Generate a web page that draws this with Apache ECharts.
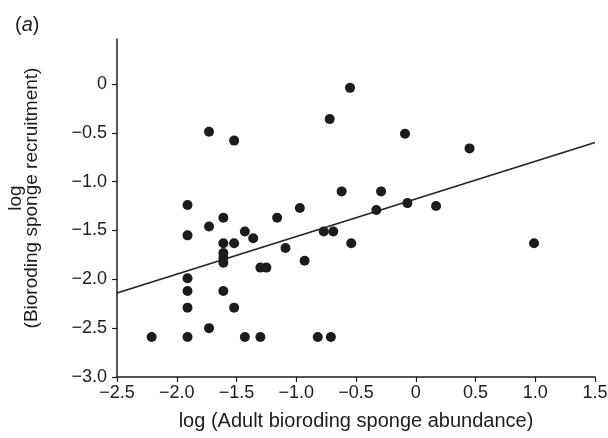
<!DOCTYPE html>
<html>
<head>
<meta charset="utf-8">
<script src="https://cdn.jsdelivr.net/npm/echarts@6/dist/echarts.min.js"></script>
<style>
  html, body { margin: 0; padding: 0; background: #fff; }
  #chart { width: 608px; height: 438px; }
</style>
</head>
<body>
<div id="chart"></div>
<script>
// adult abundance (x) vs recruitment (y), both log
const adultLog = [
  -2.21, -1.91, -1.91, -1.91, -1.91, -1.91, -1.91, -1.73, -1.73, -1.73,
  -1.61, -1.61, -1.61, -1.61, -1.61, -1.61, -1.52, -1.52, -1.52, -1.43,
  -1.43, -1.36, -1.30, -1.30, -1.25, -1.16, -1.09, -0.97, -0.93, -0.82,
  -0.77, -0.71, -0.69, -0.72, -0.62, -0.55, -0.54, -0.33, -0.29, -0.09,
  -0.07, 0.17, 0.45, 0.99
];
const recruitLog = [
  -2.59, -2.59, -2.29, -2.12, -1.99, -1.55, -1.24, -2.50, -1.46, -0.49,
  -2.12, -1.83, -1.78, -1.73, -1.63, -1.37, -2.29, -1.63, -0.58, -2.59,
  -1.51, -1.58, -2.59, -1.88, -1.88, -1.37, -1.68, -1.27, -1.81, -2.59,
  -1.51, -2.59, -1.51, -0.36, -1.10, -0.04, -1.63, -1.29, -1.10, -0.51,
  -1.22, -1.25, -0.66, -1.63
];

// fitted line end points
const fitX = [-2.5, 1.5];
const fitY = [-2.14, -0.60];

const xTicks = [-2.5, -2.0, -1.5, -1.0, -0.5, 0, 0.5, 1.0, 1.5];
const yTicks = [-3.0, -2.5, -2.0, -1.5, -1.0, -0.5, 0];

const ink = '#1c1c1c';
const font = 'Liberation Sans, Arial, Helvetica, sans-serif';

const fmt = v => v === 0 ? '0' : (v < 0 ? '\u2212' : '') + Math.abs(v).toFixed(1);

const chart = echarts.init(document.getElementById('chart'));

const points = adultLog.map((x, i) => [x, recruitLog[i]]);
const fitLine = fitX.map((x, i) => [x, fitY[i]]);

chart.setOption({
  animation: false,
  backgroundColor: '#fff',
  grid: {left: 117, right: 13, top: 39, bottom: 61, outerBoundsMode: 'none'},
  xAxis: {
    type: 'value',
    min: -2.5,
    max: 1.5,
    interval: 0.5,
    name: 'log (Adult bioroding sponge abundance)',
    nameLocation: 'middle',
    nameGap: 34,
    nameTextStyle: {color: ink, fontSize: 20, fontFamily: font},
    axisLine: {onZero: false, lineStyle: {color: ink, width: 1.5}},
    axisTick: {show: true, length: 5, lineStyle: {color: ink, width: 1.2}, customValues: xTicks},
    axisLabel: {color: ink, fontSize: 18, fontFamily: font, margin: 7, customValues: xTicks, formatter: fmt},
    splitLine: {show: false}
  },
  yAxis: {
    type: 'value',
    min: -3.0,
    max: 0.46,
    interval: 0.5,
    axisLine: {show: true, onZero: false, lineStyle: {color: ink, width: 1.5}},
    axisTick: {show: true, length: 5, lineStyle: {color: ink, width: 1.2}, customValues: yTicks},
    axisLabel: {color: ink, fontSize: 18, fontFamily: font, margin: 10, customValues: yTicks, formatter: fmt},
    splitLine: {show: false}
  },
  graphic: [
    {
      type: 'text',
      left: 15,
      top: 15,
      style: {
        text: '({a|a})',
        font: '20px ' + font,
        fill: ink,
        rich: {a: {fontStyle: 'italic', fontSize: 20, fontFamily: font, fill: ink}}
      }
    },
    {
      type: 'text',
      x: 24,
      y: 198,
      rotation: Math.PI / 2,
      style: {
        text: 'log\n(Bioroding sponge recruitment)',
        font: '19px ' + font,
        fill: ink,
        align: 'center',
        verticalAlign: 'middle',
        lineHeight: 16
      }
    }
  ],
  series: [
    {
      type: 'scatter',
      data: points,
      symbol: 'circle',
      symbolSize: 10,
      itemStyle: {color: ink, opacity: 1},
      z: 3
    },
    {
      type: 'line',
      data: fitLine,
      symbol: 'none',
      lineStyle: {color: '#222', width: 1.6},
      z: 2
    }
  ]
});
</script>
</body>
</html>
